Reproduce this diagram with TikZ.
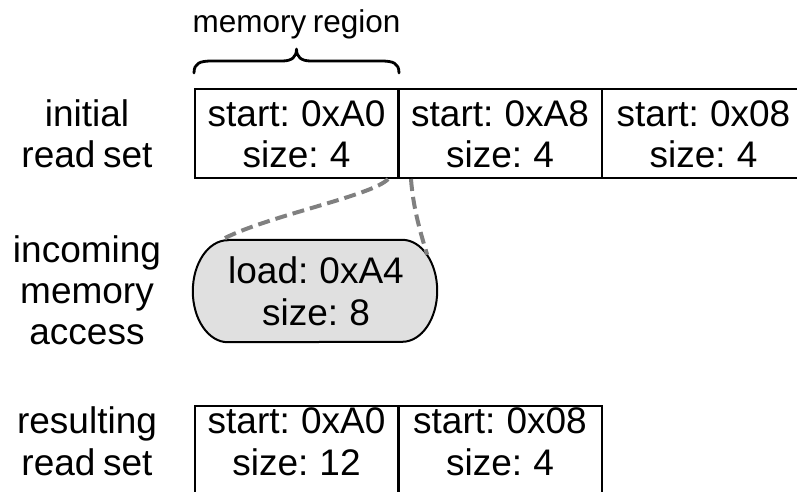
\documentclass[tikz,border=0pt]{standalone}
\usepackage{fontspec}
\setmainfont{Liberation Sans}[WordSpace=0.75]
\usetikzlibrary{calc}
\definecolor{accessfill}{gray}{0.88}
\definecolor{linkgray}{gray}{0.5}
\begin{document}
\begin{tikzpicture}[x=1pt,y=-1pt,
  cell/.style={draw, line width=2pt, minimum width=203pt, inner sep=0pt, anchor=north},
  txt/.style={inner sep=0pt, anchor=base, font=\fontsize{37}{41}\selectfont},
  small/.style={inner sep=0pt, anchor=base, font=\fontsize{31.5}{36}\selectfont},
  accessbox/.style={rectangle, minimum width=244pt, minimum height=102pt, inner sep=0pt},
  accessline/.style={draw, line width=2pt, fill=accessfill},
  link/.style={draw=linkgray, line width=4pt, dash pattern=on 12pt off 6pt},
  bracepath/.style={line width=2.8pt, line cap=round, line join=round}
]
\clip (0,0) rectangle (797,491);

% brace over the first region
\node[small] (region) at (296.5,32) {memory region};
\draw[bracepath] (194,73) .. controls (194,63) and (200,61) .. (212,61) -- (282,61)
  .. controls (292,61) and (296.5,57) .. (296.5,49)
  .. controls (296.5,57) and (301,61) .. (311,61) -- (381,61)
  .. controls (393,61) and (399,63) .. (399,73);

% initial read set
\node[txt] (lab1a) at (87,126) {initial};
\node[txt] (lab1b) at (87,167) {read set};
\node[cell, minimum height=89pt] (c1) at (296.5,88) {};
\node[cell, minimum height=89pt] (c2) at (500,88) {};
\node[cell, minimum height=89pt] (c3) at (703.5,88) {};
\node[txt] (c1a) at (296.5,126) {start: 0xA0};
\node[txt] (c1b) at (296.5,167) {size: 4};
\node[txt] (c2a) at (500,126) {start: 0xA8};
\node[txt] (c2b) at (500,167) {size: 4};
\node[txt] (c3a) at (703.5,126) {start: 0x08};
\node[txt] (c3b) at (703.5,167) {size: 4};

% incoming memory access: a box with half-elliptic ends
\node[txt] (lab2a) at (87,262) {incoming};
\node[txt] (lab2b) at (87,303) {memory};
\node[txt] (lab2c) at (87,344) {access};
\node[accessbox] (acc) at (315,291) {};
\path[accessline] ($(acc.north west)+(35,0)$) -- ($(acc.north east)+(-35,0)$)
  arc[start angle=-90, end angle=90, x radius=35, y radius=51]
  -- ($(acc.south west)+(35,0)$)
  arc[start angle=90, end angle=270, x radius=35, y radius=51] -- cycle;
\node[txt] (acca) at (316,283) {load: 0xA4};
\node[txt] (accb) at (316,325) {size: 8};

\draw[link] ($(c1.south east)+(-11,0)$) .. controls +(-15,17) and +(42,-24) .. ($(acc.north west)+(27,1)$);
\draw[link] ($(c1.south east)+(12,0)$) .. controls +(2,27) and +(-8,-26) .. ($(acc.north east)+(-10,15)$);

% resulting read set
\node[txt] (lab3a) at (87,433) {resulting};
\node[txt] (lab3b) at (87,475) {read set};
\node[cell, minimum height=150pt] (d1) at (296.5,405) {};
\node[cell, minimum height=150pt] (d2) at (500,405) {};
\node[txt] (d1a) at (296.5,433) {start: 0xA0};
\node[txt] (d1b) at (296.5,475) {size: 12};
\node[txt] (d2a) at (500,433) {start: 0x08};
\node[txt] (d2b) at (500,475) {size: 4};
\end{tikzpicture}
\end{document}
